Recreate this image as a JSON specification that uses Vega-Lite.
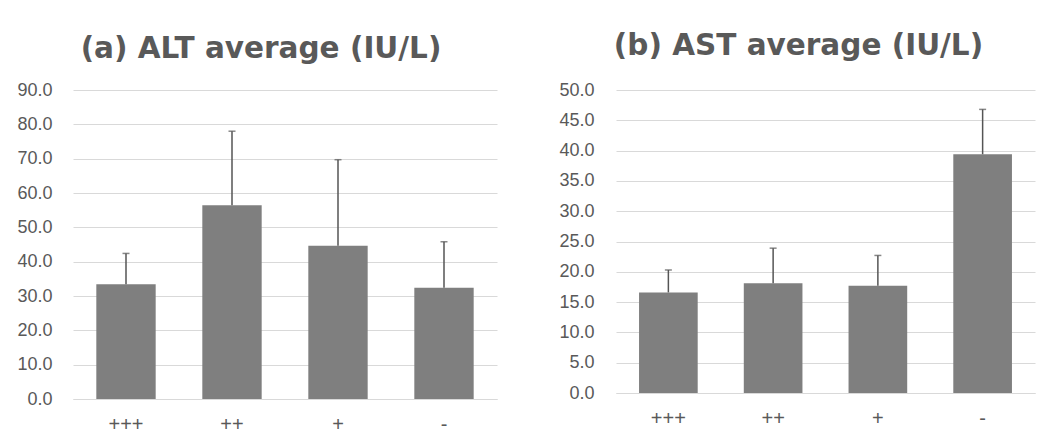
{
  "$schema": "https://vega.github.io/schema/vega-lite/v6.json",
  "padding": {"left": 16, "top": 30, "right": 5, "bottom": 5},
  "background": "white",
  "spacing": 61,
  "datasets": {
    "alt": [
      {"group": "+++", "mean": 33.4, "upper": 42.4},
      {"group": "++", "mean": 56.4, "upper": 78.0},
      {"group": "+", "mean": 44.6, "upper": 69.7},
      {"group": "-", "mean": 32.4, "upper": 45.8}
    ],
    "ast": [
      {"group": "+++", "mean": 16.6, "upper": 20.3},
      {"group": "++", "mean": 18.1, "upper": 23.9},
      {"group": "+", "mean": 17.7, "upper": 22.7},
      {"group": "-", "mean": 39.4, "upper": 46.8}
    ]
  },
  "config": {
    "font": "Liberation Sans",
    "view": {"stroke": null},
    "axis": {"labelFont": "Liberation Sans", "labelColor": "#595959", "ticks": false, "title": null, "labelOverlap": false},
    "axisY": {"labelFontSize": 18, "domain": false, "gridColor": "#d9d9d9", "gridWidth": 1, "format": ".1f"},
    "axisX": {"labelFontSize": 20, "labelAngle": 0, "labelPadding": 15, "domainColor": "#d9d9d9", "grid": false},
    "title": {"font": "DejaVu Sans", "fontSize": 29.5, "fontWeight": "bold", "color": "#595959", "anchor": "middle"}
  },
  "hconcat": [
    {
      "title": {"text": "(a) ALT average (IU/L)", "dx": -24, "offset": 17},
      "width": 424,
      "height": 309,
      "data": {"name": "alt"},
      "encoding": {
        "x": {"field": "group", "type": "nominal", "sort": ["+++", "++", "+", "-"],
              "scale": {"paddingInner": 0.44, "paddingOuter": 0.22},
              "axis": {"labelFontSize": 20, "labelPadding": 15}}
      },
      "layer": [
        {
          "mark": {"type": "bar", "color": "#7f7f7f"},
          "encoding": {
            "y": {"field": "mean", "type": "quantitative",
                  "scale": {"domain": [0, 90], "nice": false},
                  "axis": {"values": [0, 10, 20, 30, 40, 50, 60, 70, 80, 90], "labelPadding": 21}}
          }
        },
        {
          "mark": {"type": "rule", "color": "#555555", "strokeWidth": 1.5},
          "encoding": {"y": {"field": "mean", "type": "quantitative", "axis": {"values": [0, 10, 20, 30, 40, 50, 60, 70, 80, 90], "labelPadding": 21}}, "y2": {"field": "upper"}}
        },
        {
          "mark": {"type": "tick", "color": "#555555", "size": 7, "thickness": 1.5},
          "encoding": {"y": {"field": "upper", "type": "quantitative", "axis": {"values": [0, 10, 20, 30, 40, 50, 60, 70, 80, 90], "labelPadding": 21}}}
        }
      ]
    },
    {
      "title": {"text": "(b) AST average (IU/L)", "dx": -27, "offset": 20},
      "width": 419,
      "height": 303,
      "data": {"name": "ast"},
      "encoding": {
        "x": {"field": "group", "type": "nominal", "sort": ["+++", "++", "+", "-"],
              "scale": {"paddingInner": 0.44, "paddingOuter": 0.22},
              "axis": {"labelFontSize": 20, "labelPadding": 15}}
      },
      "layer": [
        {
          "mark": {"type": "bar", "color": "#7f7f7f"},
          "encoding": {
            "y": {"field": "mean", "type": "quantitative",
                  "scale": {"domain": [0, 50], "nice": false},
                  "axis": {"values": [0, 5, 10, 15, 20, 25, 30, 35, 40, 45, 50], "labelPadding": 22}}
          }
        },
        {
          "mark": {"type": "rule", "color": "#555555", "strokeWidth": 1.5},
          "encoding": {"y": {"field": "mean", "type": "quantitative", "axis": {"values": [0, 5, 10, 15, 20, 25, 30, 35, 40, 45, 50], "labelPadding": 22}}, "y2": {"field": "upper"}}
        },
        {
          "mark": {"type": "tick", "color": "#555555", "size": 7, "thickness": 1.5},
          "encoding": {"y": {"field": "upper", "type": "quantitative", "axis": {"values": [0, 5, 10, 15, 20, 25, 30, 35, 40, 45, 50], "labelPadding": 22}}}
        }
      ]
    }
  ]
}
